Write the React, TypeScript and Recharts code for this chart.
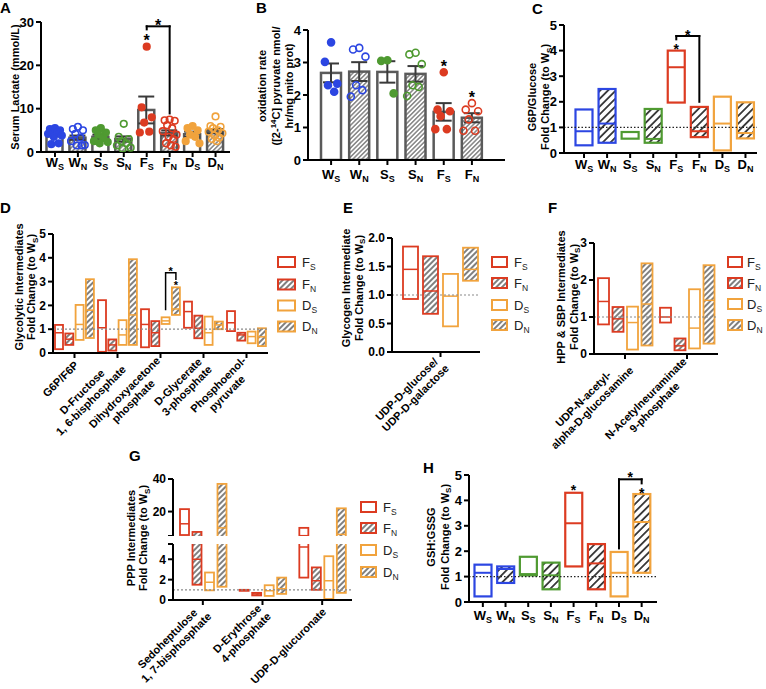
import React from 'react'
import {
  ComposedChart, BarChart, Bar, XAxis, YAxis, Scatter, ErrorBar, ReferenceLine, ReferenceDot,
} from 'recharts'

const FONT = '"Liberation Sans", Arial, Helvetica, sans-serif'
const GROUP_COLOR: Record<string, string> = { W: '#2c46e2', S: '#4f9a31', F: '#dc3b21', D: '#f1a33d' }
const SERIES = ['Fs', 'Fn', 'Ds', 'Dn']

// ---- A: serum lactate
const lactateGroups = ['Ws', 'Wn', 'Ss', 'Sn', 'Fs', 'Fn', 'Ds', 'Dn']
const lactateMean = [4.0, 3.3, 3.5, 3.0, 9.7, 4.4, 4.1, 4.8]
const lactateSem = [0.4, 0.5, 0.5, 0.6, 3.1, 0.6, 0.6, 0.5]
const lactatePoints = [
  [5.5, 5.3, 5.0, 4.8, 4.5, 4.2, 3.8, 3.5, 2.0, 1.8],
  [5.8, 5.3, 5.0, 4.2, 3.3, 2.5, 1.6, 1.5, 1.5],
  [5.5, 5.0, 4.5, 4.0, 3.2, 2.5, 2.3, 2.0],
  [6.5, 3.5, 3.0, 2.5, 2.0, 1.5, 1.0, 0.8],
  [24.3, 10.3, 8.0, 6.8, 4.7, 4.5],
  [7.5, 7.3, 7.2, 6.2, 5.5, 4.8, 4.0, 3.5, 3.0, 2.0, 1.5, 1.2],
  [6.0, 5.5, 5.0, 4.0, 3.5, 2.5, 2.0],
  [8.2, 6.0, 5.8, 5.5, 5.0, 4.7, 4.3, 3.8, 3.3, 3.0, 2.5],
]
const lactateStars = [{ x: 4, y: 26.4 }, { x: 4.5, y: 30 }]
const lactateBracket = { from: 4, to: 5, top: 29, fromEnd: 28.3, toEnd: 8.9 }

// ---- B: pyruvate oxidation
const oxGroups = ['Ws', 'Wn', 'Ss', 'Sn', 'Fs', 'Fn']
const oxMean = [2.68, 2.72, 2.71, 2.65, 1.48, 1.3]
const oxSem = [0.29, 0.29, 0.33, 0.24, 0.27, 0.14]
const oxPoints = [
  [3.62, 3.02, 2.35, 2.3, 2.1],
  [3.45, 3.4, 3.18, 2.3, 2.15, 1.95],
  [3.07, 3.05, 2.05],
  [3.3, 3.25, 2.95, 2.3, 2.25, 1.97],
  [2.7, 1.55, 1.5, 1.35, 0.95, 0.95],
  [1.75, 1.55, 1.5, 1.25, 0.9, 0.9],
]
const oxStars = [{ x: 4, y: 2.97 }, { x: 5, y: 2.03 }]

// ---- C: G6P/Glucose  [low, median, high]
const g6pBoxes = [
  [0.3, 0.85, 1.7], [0.4, 1.15, 2.5], [0.56, 0.82, 0.82], [0.4, 0.55, 1.72],
  [1.97, 3.35, 4.0], [0.62, 0.85, 1.8], [0.1, 1.15, 2.2], [0.57, 0.78, 1.98],
]
const g6pStars = [{ x: 4, y: 4.16 }, { x: 4.5, y: 4.72 }]
const g6pBracket = { from: 4, to: 5, top: 4.57, fromEnd: 4.44, toEnd: 2.0 }

// ---- H: GSH:GSSG
const gshBoxes = [
  [0.22, 1.15, 1.47], [0.75, 1.3, 1.4], [1.05, 1.1, 1.78], [0.5, 1.05, 1.55],
  [1.4, 3.1, 4.3], [0.5, 1.52, 2.28], [0.22, 1.15, 1.97], [1.15, 3.15, 4.25],
]
const gshStars = [{ x: 4, y: 4.5 }, { x: 6.5, y: 5.03 }, { x: 7, y: 4.41 }]
const gshBracket = { from: 6, to: 7, top: 4.83, fromEnd: 2.11, toEnd: 4.67 }

// ---- D: glycolytic intermediates
const glycoNames = ['G6P/F6P', 'D-Fructose\n1, 6-bisphosphate', 'Dihydroxyacetone\nphosphate', 'D-Glycerate\n3-phosphate', 'Phosphoenol-\npyruvate']
const glycoFs = [[0.16, 0.85, 1.18], [0.05, 1.06, 2.22], [0.24, 1.2, 1.84], [1.06, 1.74, 2.16], [0.92, 1.27, 1.76]]
const glycoFn = [[0.34, 0.58, 0.82], [0.1, 0.34, 0.57], [0.29, 0.85, 1.34], [0.62, 1.04, 1.57], [0.52, 0.76, 0.85]]
const glycoDs = [[0.55, 1.2, 2.02], [0.34, 0.76, 1.38], [1.22, 1.35, 1.5], [0.34, 0.85, 1.53], [0.41, 0.69, 0.9]]
const glycoDn = [[0.63, 1.8, 3.1], [0.34, 1.6, 3.94], [1.6, 1.85, 2.76], [1.0, 1.18, 1.32], [0.29, 0.68, 1.04]]
const glycoDnStar = [null, null, 2.95, null, null]
const glycoDnBracket = [null, null, [1.8, 3.37, 3.07, 3.53], null, null]

// ---- E: glycogen intermediate
const glycogenNames = ['UDP-D-glucose/\nUDP-D-galactose']
const glycogenFs = [[0.93, 1.45, 1.85]]
const glycogenFn = [[0.67, 1.07, 1.68]]
const glycogenDs = [[0.45, 0.98, 1.37]]
const glycogenDn = [[1.25, 1.45, 1.83]]

// ---- F: HPP & SBP intermediates
const hexNames = ['UDP-N-acetyl-\nalpha-D-glucosamine', 'N-Acetylneuraminate\n9-phosphate']
const hexFs = [[0.8, 1.42, 2.05], [0.85, 1.0, 1.25]]
const hexFn = [[0.6, 0.95, 1.27], [0.1, 0.22, 0.42]]
const hexDs = [[0.12, 0.85, 1.28], [0.15, 0.7, 1.75]]
const hexDn = [[0.23, 1.35, 2.45], [0.28, 1.45, 2.4]]

// ---- G: PPP intermediates
const pppNames = ['Sedoheptulose\n1, 7-bisphosphate', 'D-Erythrose\n4-phosphate', 'UDP-D-glucuronate']
const pppFs = [[5.6, 12.5, 21.5], [0.9, 0.95, 1.0], [2.2, 5.2, 10]]
const pppFn = [[1.5, 4.0, 7.5], [0.45, 0.6, 0.7], [1.0, 1.9, 3.2]]
const pppDs = [[0.95, 1.75, 2.7], [0.4, 0.9, 1.45], [0.1, 1.9, 4.3]]
const pppDn = [[1.3, 10, 37], [0.6, 1.1, 2.2], [0.7, 6, 22]]

// jitter pattern for the dot plots (layout only)
const JITTER = [0, -0.22, 0.22, -0.11, 0.11, -0.3, 0.3, -0.05, 0.16, -0.16, 0.05, 0.26]

const meanTable = (groups: string[], mean: number[], sem: number[]) =>
  groups.map((cat, i) => ({ cat, mean: mean[i], sem: sem[i] }))
const pointTable = (pts: number[][]) =>
  pts.map((vals, i) => vals.map((y, k) => ({ x: i + JITTER[k % JITTER.length], y })))
const catBoxTable = (groups: string[], boxes: number[][]) =>
  groups.map((cat, i) => ({ cat, range: [boxes[i][0], boxes[i][2]], box: boxes[i] }))
const groupTable = (names: string[], bySeries: number[][][]) =>
  names.map((name, i) => {
    const row: any = { name }
    SERIES.forEach((k, j) => {
      const b = bySeries[j][i]
      row[k] = [b[0], b[2]]
      row[k + 'Box'] = b
    })
    return row
  })

const tableA = meanTable(lactateGroups, lactateMean, lactateSem)
const dotsA = pointTable(lactatePoints)
const tableB = meanTable(oxGroups, oxMean, oxSem)
const dotsB = pointTable(oxPoints)
const tableC = catBoxTable(lactateGroups, g6pBoxes)
const tableH = catBoxTable(lactateGroups, gshBoxes)
const tableD = groupTable(glycoNames, [glycoFs, glycoFn, glycoDs, glycoDn]).map((r, i) => ({
  ...r, DnStar: glycoDnStar[i], DnBr: glycoDnBracket[i],
}))
const tableE = groupTable(glycogenNames, [glycogenFs, glycogenFn, glycogenDs, glycogenDn])
const tableF = groupTable(hexNames, [hexFs, hexFn, hexDs, hexDn])
const tableG = groupTable(pppNames, [pppFs, pppFn, pppDs, pppDn])

// chart frame from plot rectangle in page pixels
function place(x0: number, y0: number, x1: number, y1: number, yw: number, xh: number, top = 10, right = 5) {
  return {
    style: { position: 'absolute' as const, left: x0 - yw, top: y0 - top },
    width: yw + (x1 - x0) + right,
    height: top + (y1 - y0) + xh,
    margin: { top, right, bottom: 0, left: 0 },
    yw,
    xh,
  }
}

const axisLine = { stroke: '#000', strokeWidth: 2 }
const yTick13 = { fill: '#000', fontSize: 13, fontWeight: 700, fontFamily: FONT }
const yTick12 = { fill: '#000', fontSize: 12, fontWeight: 700, fontFamily: FONT }

function Hatch({ id, size = 5, line = '#333', lw = 1.5 }: any) {
  return (
    <pattern id={id} patternUnits="userSpaceOnUse" width={size} height={size} patternTransform="rotate(45)">
      <rect width={size} height={size} fill="#fff" />
      <line x1={size / 2} y1={0} x2={size / 2} y2={size} stroke={line} strokeWidth={lw} />
    </pattern>
  )
}

let measureCtx: any = null
function measure(s: string, font: string) {
  if (!measureCtx) measureCtx = document.createElement('canvas').getContext('2d')
  if (!measureCtx) return s.length * 6
  measureCtx.font = font
  return measureCtx.measureText(s).width
}

function GroupTick({ x, y, payload, dy = 8 }: any) {
  const v = String(payload.value)
  return (
    <text x={x} y={y + dy} textAnchor="middle" fontFamily={FONT} fontWeight={700} fontSize={13} fill="#000">
      {v[0]}
      <tspan fontSize={9} dy={3}>{v[1].toUpperCase()}</tspan>
    </text>
  )
}

function SlantTick({ x, y, payload }: any) {
  const lines = String(payload.value).split('\n')
  const size = 11
  const w = Math.max(...lines.map((l) => measure(l, `bold ${size}px "Liberation Sans", Arial`)))
  const lh = 12.5
  return (
    <g transform={`translate(${x + 2},${y + 3}) rotate(-45)`}>
      {lines.map((l, i) => (
        <text key={i} x={-w / 2} y={(i - (lines.length - 1) / 2) * lh + size * 0.35} textAnchor="middle"
          fontFamily={FONT} fontWeight={700} fontSize={size} fill="#000">{l}</text>
      ))}
    </g>
  )
}

function StarMark({ cx, cy, size = 14 }: any) {
  return (
    <text x={cx} y={cy + size * 0.55} textAnchor="middle" fontFamily={FONT} fontWeight={700} fontSize={size} fill="#000">*</text>
  )
}

function MeanBar({ x, y, width, height, payload, hatchId }: any) {
  const hatched = payload.cat[1] === 'n'
  return <rect x={x} y={y} width={width} height={height} fill={hatched ? `url(#${hatchId})` : '#fff'} stroke="#5a5a5a" strokeWidth={2.5} />
}

function boxGeom(y: number, height: number, lo: number, hi: number) {
  const top = Math.min(y, y + height)
  const h = Math.abs(height)
  const toPx = (v: number) => (hi === lo ? top : top + (h * (hi - v)) / (hi - lo))
  return { top, h, toPx }
}

function CatBox({ x, y, width, height, payload, hatchId }: any) {
  const [lo, md, hi] = payload.box
  const color = GROUP_COLOR[payload.cat[0]]
  const fill = payload.cat[1] === 'n' ? `url(#${hatchId})` : '#fff'
  const g = boxGeom(y, height, lo, hi)
  return (
    <g>
      <rect x={x} y={g.top} width={width} height={g.h} fill={fill} stroke={color} strokeWidth={2.2} />
      <line x1={x} x2={x + width} y1={g.toPx(md)} y2={g.toPx(md)} stroke={color} strokeWidth={2} />
    </g>
  )
}

function SeriesBox({ x, y, width, height, payload, k, hatchId, pitch }: any) {
  const [lo, md, hi] = payload[k + 'Box']
  const color = GROUP_COLOR[k[0]]
  const fill = k[1] === 'n' ? `url(#${hatchId})` : '#fff'
  const g = boxGeom(y, height, lo, hi)
  const star = payload[k + 'Star']
  const br = payload[k + 'Br']
  const cx = x + width / 2
  return (
    <g>
      <rect x={x} y={g.top} width={width} height={g.h} fill={fill} stroke={color} strokeWidth={1.8} />
      <line x1={x} x2={x + width} y1={g.toPx(md)} y2={g.toPx(md)} stroke={color} strokeWidth={1.5} />
      {star != null && <StarMark cx={cx} cy={g.toPx(star)} size={11} />}
      {br && (
        <g>
          <path d={`M${cx - pitch},${g.toPx(br[0])}V${g.toPx(br[1])}H${cx}V${g.toPx(br[2])}`} fill="none" stroke="#000" strokeWidth={1.5} />
          <StarMark cx={cx - pitch / 2} cy={g.toPx(br[3])} size={11} />
        </g>
      )}
    </g>
  )
}

function bracket(b: any, key: string) {
  const common: any = { xAxisId: 'j', stroke: '#000', strokeWidth: 2, ifOverflow: 'visible', strokeLinecap: 'square' }
  return [
    <ReferenceLine key={key + 'a'} {...common} segment={[{ x: b.from, y: b.fromEnd }, { x: b.from, y: b.top }]} />,
    <ReferenceLine key={key + 'b'} {...common} segment={[{ x: b.from, y: b.top }, { x: b.to, y: b.top }]} />,
    <ReferenceLine key={key + 'c'} {...common} segment={[{ x: b.to, y: b.top }, { x: b.to, y: b.toEnd }]} />,
  ]
}

function starMarks(list: any[], size: number, key: string) {
  return list.map((s, i) => (
    <ReferenceDot key={key + i} xAxisId="j" x={s.x} y={s.y} r={0} ifOverflow="visible"
      shape={(p: any) => <StarMark cx={p.cx} cy={p.cy} size={size} />} />
  ))
}

function DotPanel({ frame, data, dots, n, pad, domain, ticks, hatchId, barSize, labelDy, r, children }: any) {
  const f = frame
  return (
    <div style={f.style}>
      <ComposedChart width={f.width} height={f.height} margin={f.margin} data={data}>
        <defs><Hatch id={hatchId} size={3.2} line="#666" lw={1.2} /></defs>
        <XAxis dataKey="cat" padding={pad} interval={0} height={f.xh} axisLine={axisLine} tickLine={axisLine} tickSize={5}
          tick={(p: any) => <GroupTick {...p} dy={labelDy} />} />
        <XAxis xAxisId="j" type="number" dataKey="x" domain={[-0.5, n - 0.5]} padding={pad} hide allowDataOverflow />
        <YAxis width={40} domain={domain} ticks={ticks} tick={yTick13} axisLine={axisLine} tickLine={axisLine} tickSize={5} allowDataOverflow />
        <Bar dataKey="mean" barSize={barSize} isAnimationActive={false} shape={(p: any) => <MeanBar {...p} hatchId={hatchId} />}>
          <ErrorBar dataKey="sem" width={8} stroke="#3a3a3a" strokeWidth={2} />
        </Bar>
        {dots.map((pts: any[], i: number) => {
          const cat = data[i].cat
          const color = GROUP_COLOR[cat[0]]
          const open = cat[1] === 'n'
          return (
            <Scatter key={cat} data={pts} dataKey="y" xAxisId="j" isAnimationActive={false}
              shape={(p: any) => <circle cx={p.cx} cy={p.cy} r={r} fill={open ? 'none' : color} stroke={color} strokeWidth={1.6} />} />
          )
        })}
        {children}
      </ComposedChart>
    </div>
  )
}

function BoxPanel({ frame, data, pad, hatchId, stars, br, labelDy }: any) {
  const f = frame
  return (
    <div style={f.style}>
      <ComposedChart width={f.width} height={f.height} margin={f.margin} data={data}>
        <defs><Hatch id={hatchId} size={5.5} line="#2a2a2a" lw={1.7} /></defs>
        <XAxis dataKey="cat" padding={pad} interval={0} height={f.xh} axisLine={axisLine} tickLine={axisLine} tickSize={5}
          tick={(p: any) => <GroupTick {...p} dy={labelDy} />} />
        <XAxis xAxisId="j" type="number" dataKey="x" domain={[-0.5, data.length - 0.5]} padding={pad} hide allowDataOverflow />
        <YAxis width={40} domain={[0, 5]} ticks={[0, 1, 2, 3, 4, 5]} tick={yTick13} axisLine={axisLine} tickLine={axisLine} tickSize={5} allowDataOverflow />
        <Bar dataKey="range" barSize={17} isAnimationActive={false} shape={(p: any) => <CatBox {...p} hatchId={hatchId} />} />
        <ReferenceLine y={1} stroke="#222" strokeDasharray="1.5 2" strokeWidth={1.3} />
        {bracket(br, 'br')}
        {starMarks(stars, 14, 'st')}
      </ComposedChart>
    </div>
  )
}

function GroupPanel({ frame, data, domain, ticks, fmt, barSize, barGap, hatchId, pad = 0, hideX = false, refOne = true }: any) {
  const f = frame
  return (
    <div style={f.style}>
      <BarChart width={f.width} height={f.height} margin={f.margin} data={data} barSize={barSize} barGap={barGap}>
        <defs><Hatch id={hatchId} size={4} line="#3a3a3a" lw={1.3} /></defs>
        <XAxis dataKey="name" hide={hideX} height={f.xh} padding={{ left: pad, right: 0 }} interval={0}
          axisLine={axisLine} tickLine={axisLine} tickSize={5} tick={(p: any) => <SlantTick {...p} />} />
        <YAxis width={f.yw} domain={domain} ticks={ticks} tickFormatter={fmt} tick={yTick12}
          axisLine={axisLine} tickLine={axisLine} tickSize={5} allowDataOverflow />
        {SERIES.map((k) => (
          <Bar key={k} dataKey={k} isAnimationActive={false}
            shape={(p: any) => <SeriesBox {...p} k={k} hatchId={hatchId} pitch={barSize + barGap} />} />
        ))}
        {refOne && <ReferenceLine y={1} stroke="#8a8a8a" strokeDasharray="2 2" strokeWidth={1.2} />}
      </BarChart>
    </div>
  )
}

function Title({ cx, cy, lines, gap = 12.5, size = 11 }: any) {
  return (
    <g transform={`translate(${cx},${cy}) rotate(-90)`}>
      {lines.map((l: any, i: number) => (
        <text key={i} x={0} y={(i - (lines.length - 1) / 2) * gap + size * 0.35} textAnchor="middle"
          fontFamily={FONT} fontWeight={700} fontSize={size} fill="#000">{l}</text>
      ))}
    </g>
  )
}

const foldChange = (
  <>Fold Change (to W<tspan fontSize={8} dy={2.5}>S</tspan><tspan dy={-2.5}>)</tspan></>
)

function SeriesLegend({ x, ys, w, gap = 7 }: any) {
  return (
    <g>
      {SERIES.map((k, i) => (
        <g key={k}>
          <rect x={x} y={ys[i] - 5} width={w} height={10} fill={k[1] === 'n' ? 'url(#hatchLegend)' : '#fff'}
            stroke={GROUP_COLOR[k[0]]} strokeWidth={2} />
          <text x={x + w + gap} y={ys[i] + 4.5} fontFamily={FONT} fontSize={13} fill="#222">
            {k[0]}<tspan fontSize={8.5} dy={3}>{k[1].toUpperCase()}</tspan>
          </text>
        </g>
      ))}
    </g>
  )
}

function Overlay() {
  const letter = (t: string, x: number, y: number) => (
    <text x={x} y={y} fontFamily={FONT} fontWeight={700} fontSize={15} fill="#000">{t}</text>
  )
  return (
    <svg width={766} height={689} style={{ position: 'absolute', left: 0, top: 0, pointerEvents: 'none' }}>
      <defs><Hatch id="hatchLegend" size={4} line="#3a3a3a" lw={1.3} /></defs>
      {letter('A', 0, 13)}
      {letter('B', 256, 13)}
      {letter('C', 532, 14)}
      {letter('D', 0, 213)}
      {letter('E', 343, 213)}
      {letter('F', 548, 213)}
      {letter('G', 129, 461)}
      {letter('H', 423, 473)}
      <Title cx={15} cy={87} lines={['Serum Lactate (mmol/L)']} />
      <Title cx={276} cy={86} gap={13.5} lines={[
        'oxidation rate',
        <>([2-<tspan fontSize={8} dy={-4}>14</tspan><tspan dy={4}>C] pyruvate nmol/</tspan></>,
        'hr/mg mito prot)',
      ]} />
      <Title cx={539} cy={97} gap={13} lines={['G6P/Glucose', foldChange]} />
      <Title cx={25} cy={287} lines={['Glycolytic Intermediates', foldChange]} />
      <Title cx={352.5} cy={288} lines={['Glycogen Intermediate', foldChange]} />
      <Title cx={567.5} cy={297} lines={['HPP & SBP Intermediates', foldChange]} />
      <Title cx={137} cy={538} lines={['PPP Intermediates', foldChange]} />
      <Title cx={438} cy={537} gap={14} lines={['GSH:GSSG', foldChange]} />
      <SeriesLegend x={278} ys={[262, 284.5, 305.5, 326.5]} w={17} />
      <SeriesLegend x={492} ys={[262, 283, 305, 325]} w={15} />
      <SeriesLegend x={728} ys={[262, 283, 304, 325]} w={14} gap={5} />
      <SeriesLegend x={361} ys={[507, 528, 550, 572]} w={15} />
    </svg>
  )
}

export default function App() {
  const padA = { left: 2.5, right: 3 }
  const padB = { left: 9, right: 19 }
  const padC = { left: 8.5, right: 0 }
  const padH = { left: 2.5, right: 4 }
  return (
    <div style={{ position: 'absolute', left: 0, top: 0, width: 766, height: 689, background: '#fff', overflow: 'hidden' }}>
      <DotPanel frame={place(41, 22, 230, 152, 40, 30)} data={tableA} dots={dotsA} n={8} pad={padA}
        domain={[0, 30]} ticks={[0, 10, 20, 30]} hatchId="hatchA" barSize={16} labelDy={8} r={3.3}>
        {bracket(lactateBracket, 'brA')}
        {starMarks(lactateStars, 16, 'stA')}
      </DotPanel>
      <DotPanel frame={place(308, 30, 505, 160, 40, 30)} data={tableB} dots={dotsB} n={6} pad={padB}
        domain={[0, 4]} ticks={[0, 1, 2, 3, 4]} hatchId="hatchB" barSize={20} labelDy={12} r={3.5}>
        {starMarks(oxStars, 16, 'stB')}
      </DotPanel>
      <BoxPanel frame={place(564, 25, 757, 153, 40, 30)} data={tableC} pad={padC} hatchId="hatchC"
        stars={g6pStars} br={g6pBracket} labelDy={8.5} />
      <BoxPanel frame={place(469, 475, 657, 602, 40, 30)} data={tableH} pad={padH} hatchId="hatchH"
        stars={gshStars} br={gshBracket} labelDy={11} />
      <GroupPanel frame={place(53, 234, 268, 353, 40, 110)} data={tableD} domain={[0, 5]} ticks={[0, 1, 2, 3, 4, 5]}
        barSize={8} barGap={2.3} hatchId="hatchD" />
      <GroupPanel frame={place(392, 238, 480, 352, 70, 110)} data={tableE} domain={[0, 2]} ticks={[0, 0.5, 1, 1.5, 2]}
        fmt={(v: number) => v.toFixed(1)} barSize={15} barGap={5} hatchId="hatchE" pad={9} />
      <GroupPanel frame={place(594, 243, 718, 354, 90, 110)} data={tableF} domain={[0, 3]} ticks={[0, 1, 2, 3]}
        barSize={11} barGap={3.5} hatchId="hatchF" />
      <GroupPanel frame={place(173, 479, 352, 536, 40, 0)} data={tableG} domain={[5, 40]} ticks={[5, 10, 20, 30, 40]}
        fmt={(v: number) => (v === 5 ? '' : String(v))} barSize={9} barGap={3.5} hatchId="hatchG1" hideX refOne={false} />
      <GroupPanel frame={place(173, 544, 352, 600, 90, 110)} data={tableG} domain={[0, 5.5]} ticks={[0, 2, 4, 5.5]}
        fmt={(v: number) => (v === 5.5 ? '' : String(v))} barSize={9} barGap={3.5} hatchId="hatchG2" />
      <Overlay />
    </div>
  )
}
